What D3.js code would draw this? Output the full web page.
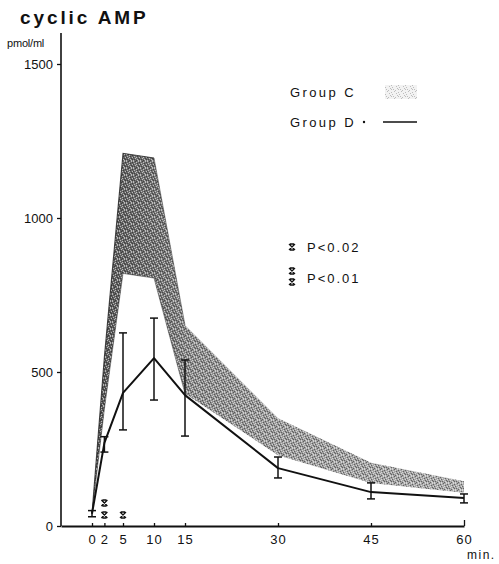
<!DOCTYPE html>
<html>
<head>
<meta charset="utf-8">
<script src="https://cdn.jsdelivr.net/npm/d3@7"></script>
<style>
  html, body { margin: 0; padding: 0; background: #fff; }
  svg text { font-family: "Liberation Sans", Arial, sans-serif; fill: #111; }
</style>
</head>
<body>
<svg id="chart" width="499" height="564"></svg>
<script>
// Sampling times (min)
const times = [0, 2, 5, 10, 15, 30, 45, 60];
// Group C: shaded range (upper / lower limit, pmol/ml)
const groupCUpper = [40, 550, 1210, 1195, 652, 350, 205, 145];
const groupCLower = [40, 380, 820, 805, 430, 230, 140, 108];
// Group D: mean with error bar limits (pmol/ml)
const groupDMean = [40, 270, 432, 545, 425, 188, 110, 91];
const groupDLow  = [30, 240, 312, 409, 292, 156, 88, 75];
const groupDHigh = [50, 290, 627, 675, 539, 224, 140, 104];
// Significance marks: time and number of stars
const sigTimes = [2, 5];
const sigStars = [2, 1];
// Axis ticks
const yTicks = [0, 500, 1000, 1500];
const xTicks = times;

const svg = d3.select("#chart");
const x = d3.scaleLinear().domain([-5, 60]).range([61, 464]);
const y = d3.scaleLinear().domain([0, 1500]).range([526, 64]);

// Band texture: grey gradient + scattered speckle
const defs = svg.append("defs");
const grad = defs.append("linearGradient")
  .attr("id", "bandGrad").attr("gradientUnits", "userSpaceOnUse")
  .attr("x1", x(0)).attr("x2", x(60)).attr("y1", 0).attr("y2", 0);
[[0, "#555555"], [0.12, "#6c6c6c"], [0.2, "#787878"], [0.27, "#8e8e8e"],
 [0.5, "#9c9c9c"], [1, "#aaaaaa"]].forEach(([o, c]) =>
  grad.append("stop").attr("offset", o).attr("stop-color", c));

// scattered pixel positions in a 7x7 tile (light and dark specks)
const lightPix = [[0,0],[3,1],[5,0],[1,2],[6,3],[2,4],[4,5],[0,6],[5,6],[3,3]];
const darkPix  = [[2,0],[6,1],[4,2],[0,3],[1,5],[5,4],[3,6],[6,5]];
const speck = defs.append("pattern")
  .attr("id", "speck").attr("patternUnits", "userSpaceOnUse")
  .attr("width", 7).attr("height", 7);
lightPix.forEach(([px, py]) => speck.append("rect")
  .attr("x", px).attr("y", py).attr("width", 1).attr("height", 1)
  .attr("fill", "#fff").attr("fill-opacity", 0.55));
darkPix.forEach(([px, py]) => speck.append("rect")
  .attr("x", px).attr("y", py).attr("width", 1).attr("height", 1)
  .attr("fill", "#000").attr("fill-opacity", 0.4));

const lightSpeck = defs.append("pattern")
  .attr("id", "lightSpeck").attr("patternUnits", "userSpaceOnUse")
  .attr("width", 7).attr("height", 7);
lightSpeck.append("rect").attr("width", 7).attr("height", 7).attr("fill", "#f2f2f2");
darkPix.forEach(([px, py]) => lightSpeck.append("rect")
  .attr("x", px).attr("y", py).attr("width", 1).attr("height", 1).attr("fill", "#bdbdbd"));

// Group C band
const bandData = times.map((t, i) => ({ t, hi: groupCUpper[i], lo: groupCLower[i] }));
const area = d3.area().x(d => x(d.t)).y0(d => y(d.lo)).y1(d => y(d.hi));
svg.append("path").datum(bandData).attr("d", area).attr("fill", "url(#bandGrad)");
svg.append("path").datum(bandData).attr("d", area).attr("fill", "url(#speck)");
// darker edges of the band
const edgeHi = d3.line().x(d => x(d.t)).y(d => y(d.hi));
const edgeLo = d3.line().x(d => x(d.t)).y(d => y(d.lo));
svg.append("path").datum(bandData.slice(0, 4)).attr("d", edgeHi)
  .attr("fill", "none").attr("stroke", "#1a1a1a").attr("stroke-width", 1.1).attr("stroke-opacity", 0.75);
svg.append("path").datum(bandData.slice(0, 5)).attr("d", edgeLo)
  .attr("fill", "none").attr("stroke", "#2a2a2a").attr("stroke-width", 0.9).attr("stroke-opacity", 0.5);
svg.append("path").datum(bandData.slice(3, 5)).attr("d", edgeHi)
  .attr("fill", "none").attr("stroke", "#2a2a2a").attr("stroke-width", 0.9).attr("stroke-opacity", 0.5);

// Axes
const yAxis = svg.append("g").attr("transform", "translate(61,0)")
  .call(d3.axisLeft(y).tickValues(yTicks).tickFormat(d3.format("d"))
    .tickSize(4).tickSizeOuter(0).tickPadding(4));
yAxis.select(".domain").remove();
yAxis.selectAll(".tick line").attr("stroke", "#111").attr("stroke-width", 1.3);
yAxis.selectAll(".tick text").style("font-size", "13px").attr("fill", "#111");
svg.append("line").attr("x1", 61).attr("x2", 61).attr("y1", 33).attr("y2", y(0))
  .attr("stroke", "#111").attr("stroke-width", 1.6);

const xAxis = svg.append("g").attr("transform", `translate(0,${y(0)})`)
  .call(d3.axisBottom(x).tickValues(xTicks).tickSize(-3).tickSizeOuter(0).tickPadding(9));
xAxis.select(".domain").attr("stroke", "#111").attr("stroke-width", 2);
xAxis.selectAll(".tick line").attr("stroke", "#111").attr("stroke-width", 1.3)
  .attr("y2", d => d === 60 ? -6 : -3);
xAxis.selectAll(".tick text").style("font-size", "13px").attr("fill", "#111")
  .style("letter-spacing", "1px");

// Group D line
const dData = times.map((t, i) => ({ t, m: groupDMean[i], lo: groupDLow[i], hi: groupDHigh[i] }));
svg.append("path").datum(dData)
  .attr("d", d3.line().x(d => x(d.t)).y(d => y(d.m)))
  .attr("fill", "none").attr("stroke", "#111").attr("stroke-width", 2).attr("stroke-linejoin", "round");

// Error bars
const eb = svg.append("g").attr("stroke", "#111").attr("stroke-width", 1.5);
dData.forEach(d => {
  const cx = x(d.t);
  eb.append("line").attr("x1", cx).attr("x2", cx).attr("y1", y(d.lo)).attr("y2", y(d.hi));
  eb.append("line").attr("x1", cx - 4).attr("x2", cx + 4).attr("y1", y(d.lo)).attr("y2", y(d.lo));
  eb.append("line").attr("x1", cx - 4).attr("x2", cx + 4).attr("y1", y(d.hi)).attr("y2", y(d.hi));
});

// Star symbol: cross with short bars top and bottom
function star(g, cx, cy) {
  g.append("path")
    .attr("d", `M${cx-3},${cy-3}L${cx+3},${cy+3}M${cx+3},${cy-3}L${cx-3},${cy+3}` +
               `M${cx-2},${cy-3}H${cx+2}M${cx-2},${cy+3}H${cx+2}`)
    .attr("stroke", "#111").attr("stroke-width", 1.3).attr("fill", "none");
}
const sg = svg.append("g");
sigTimes.forEach((t, i) => {
  for (let k = 0; k < sigStars[i]; k++) star(sg, x(t), 515 - k * 12);
});

// Title and units
svg.append("text").attr("x", 20).attr("y", 24).text("cyclic AMP")
  .style("font-size", "19px").style("font-weight", "bold").style("letter-spacing", "2.9px");
svg.append("text").attr("x", 7).attr("y", 47).text("pmol/ml")
  .style("font-size", "11px").style("letter-spacing", "-0.2px");
svg.append("text").attr("x", 467).attr("y", 559).text("min.")
  .style("font-size", "12px").style("letter-spacing", "1.5px");

// Legend
const lg = svg.append("g");
lg.append("text").attr("x", 290).attr("y", 97).text("Group C")
  .style("font-size", "13px").style("letter-spacing", "2.4px");
lg.append("rect").attr("x", 385).attr("y", 85).attr("width", 32).attr("height", 14)
  .attr("fill", "url(#lightSpeck)");
lg.append("text").attr("x", 290).attr("y", 127).text("Group D")
  .style("font-size", "13px").style("letter-spacing", "2.4px");
lg.append("circle").attr("cx", 364).attr("cy", 122).attr("r", 1.2).attr("fill", "#111");
lg.append("line").attr("x1", 383).attr("x2", 417).attr("y1", 122).attr("y2", 122)
  .attr("stroke", "#111").attr("stroke-width", 1.6);

// Significance legend
star(lg, 292, 247);
lg.append("text").attr("x", 307).attr("y", 252).text("P<0.02")
  .style("font-size", "13px").style("letter-spacing", "2px");
star(lg, 292, 271);
star(lg, 292, 282);
lg.append("text").attr("x", 307).attr("y", 283).text("P<0.01")
  .style("font-size", "13px").style("letter-spacing", "2px");
</script>
</body>
</html>
